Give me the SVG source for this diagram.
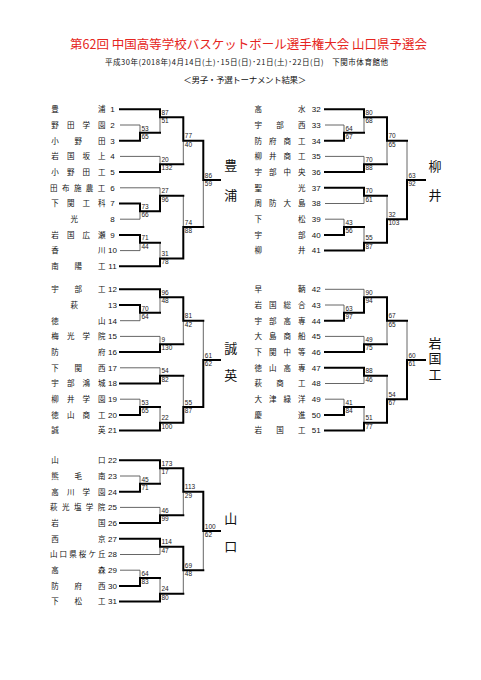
<svg xmlns="http://www.w3.org/2000/svg" width="481" height="680" viewBox="0 0 481 680">
<style>
.nm{font-family:"Noto Sans CJK JP","Noto Sans CJK SC",sans-serif;font-size:7.5px;fill:#111}
.no{font-family:"Liberation Sans",Arial,sans-serif;font-size:8px;fill:#111;text-anchor:middle}
.sc{font-family:"Liberation Sans",Arial,sans-serif;font-size:6.5px;fill:#222}
.th{stroke:#000;stroke-width:2;fill:none;stroke-linecap:square}
.tn{stroke:#555;stroke-width:0.9;fill:none}
.lb{font-family:"Noto Sans CJK JP",sans-serif;font-size:13px;text-anchor:middle;fill:#111}
.hd{font-family:"Noto Sans CJK JP","Noto Sans CJK SC",sans-serif;fill:#111}
</style>
<rect width="481" height="680" fill="#fff"/>
<g id="title">
<text class="hd" x="70" y="48.5" font-size="12.5" style="fill:#e52420" textLength="357" lengthAdjust="spacing">第62回 中国高等学校バスケットボール選手権大会 山口県予選会</text>
<text class="hd" x="105" y="64.8" font-size="7.5" textLength="283" lengthAdjust="spacing">平成30年(2018年)4月14日(土)･15日(日)･21日(土)･22日(日)　下関市体育館他</text>
<text class="hd" x="183.3" y="82.7" font-size="8.5" textLength="123" lengthAdjust="spacing">＜男子・予選トーナメント結果＞</text>
</g>
<g id="connectors">
<path class="tn" d="M120 125H140M120 156.4H160M120 187.8H160M120 219.2H140M120 250.6H140
M140 125V132.85M160 117.15V132.85M160 156.4V164.25M183.3 140.7V164.25M140 211.35V219.2M160 187.8V195.65M140 242.75V250.6M160 242.75V258.45M183.3 195.65V227.05M203.3 179.95V227.05"/>
<path class="th" d="M120 109.3H160M120 140.7H140M120 172.1H160M120 203.5H140M120 234.9H140M120 266.3H160
M140 140.7V132.85H160M160 109.3V117.15H183.3M160 172.1V164.25H183.3M183.3 117.15V140.7H203.3M140 203.5V211.35H160M160 211.35V195.65H183.3M140 234.9V242.75H160M160 266.3V258.45H183.3M183.3 258.45V227.05H203.3M203.3 140.7V179.95H220"/>
<path class="tn" d="M120 320.7H140M120 336.4H160M120 367.8H160M120 399.2H140
M140 312.85V320.7M160 297.15V312.85M160 336.4V344.25M183.3 320.7V344.25M160 367.8V375.65M140 399.2V407.05M160 407.05V422.75M183.3 375.65V407.05M203.3 320.7V359.95"/>
<path class="th" d="M120 289.3H160M120 305H140M120 352.1H160M120 383.5H160M120 414.9H140M120 430.6H160
M140 305V312.85H160M160 289.3V297.15H183.3M160 352.1V344.25H183.3M183.3 297.15V320.7H203.3M160 383.5V375.65H183.3M140 414.9V407.05H160M160 430.6V422.75H183.3M183.3 422.75V407.05H203.3M203.3 407.05V359.95H220"/>
<path class="tn" d="M120 476H140M120 507.4H160M120 554.5H160M120 570.2H140
M140 476V483.85M160 468.15V483.85M160 507.4V515.25M183.3 491.7V515.25M160 546.65V554.5M140 570.2V578.05M160 578.05V593.75M183.3 570.2V593.75M203.3 530.95V570.2"/>
<path class="th" d="M120 460.3H160M120 491.7H140M120 523.1H160M120 538.8H160M120 585.9H140M120 601.6H160
M140 491.7V483.85H160M160 460.3V468.15H183.3M160 523.1V515.25H183.3M183.3 468.15V491.7H203.3M160 538.8V546.65H183.3M140 585.9V578.05H160M160 601.6V593.75H183.3M183.3 546.65V570.2H203.3M203.3 491.7V530.95H220"/>
<path class="tn" d="M325 125H344M325 156.4H364M325 203.5H364M325 219.2H344
M344 125V132.85M364 117.15V132.85M364 156.4V164.25M387 140.7V164.25M364 195.65V203.5M344 219.2V227.05M364 227.05V242.75M387 195.65V219.2M407 140.7V179.95"/>
<path class="th" d="M325 109.3H364M325 140.7H344M325 172.1H364M325 187.8H364M325 234.9H344M325 250.6H364
M344 140.7V132.85H364M364 109.3V117.15H387M364 172.1V164.25H387M387 117.15V140.7H407M364 187.8V195.65H387M344 234.9V227.05H364M364 250.6V242.75H387M387 242.75V219.2H407M407 219.2V179.95H425"/>
<path class="tn" d="M325 289.3H364M325 305H344M325 336.4H364M325 383.5H364M325 399.2H344
M344 305V312.85M364 289.3V297.15M364 336.4V344.25M387 320.7V344.25M364 375.65V383.5M344 399.2V407.05M364 407.05V422.75M387 375.65V399.2M407 320.7V359.95"/>
<path class="th" d="M325 320.7H344M325 352.1H364M325 367.8H364M325 414.9H344M325 430.6H364
M344 320.7V312.85H364M364 312.85V297.15H387M364 352.1V344.25H387M387 297.15V320.7H407M364 367.8V375.65H387M344 414.9V407.05H364M364 430.6V422.75H387M387 422.75V399.2H407M407 399.2V359.95H425"/>
</g>
<g id="scores" class="sc">
<text x="141.5" y="130.55">53</text><text x="141.5" y="138.85">65</text>
<text x="161.5" y="114.85">87</text><text x="161.5" y="123.15">51</text>
<text x="161.5" y="161.95">20</text><text x="161.5" y="170.25">132</text>
<text x="184.8" y="138.4">77</text><text x="184.8" y="146.7">40</text>
<text x="141.5" y="209.05">73</text><text x="141.5" y="217.35">66</text>
<text x="161.5" y="193.35">27</text><text x="161.5" y="201.65">96</text>
<text x="141.5" y="240.45">71</text><text x="141.5" y="248.75">44</text>
<text x="161.5" y="256.15">31</text><text x="161.5" y="264.45">78</text>
<text x="184.8" y="224.75">74</text><text x="184.8" y="233.05">88</text>
<text x="204.8" y="177.65">86</text><text x="204.8" y="185.95">59</text>

<text x="141.5" y="310.55">70</text><text x="141.5" y="318.85">64</text>
<text x="161.5" y="294.85">96</text><text x="161.5" y="303.15">48</text>
<text x="161.5" y="341.95">9</text><text x="161.5" y="350.25">130</text>
<text x="184.8" y="318.4">81</text><text x="184.8" y="326.7">42</text>
<text x="161.5" y="373.35">54</text><text x="161.5" y="381.65">82</text>
<text x="141.5" y="404.75">53</text><text x="141.5" y="413.05">65</text>
<text x="161.5" y="420.45">22</text><text x="161.5" y="428.75">100</text>
<text x="184.8" y="404.75">55</text><text x="184.8" y="413.05">87</text>
<text x="204.8" y="357.65">61</text><text x="204.8" y="365.95">62</text>

<text x="141.5" y="481.55">45</text><text x="141.5" y="489.85">71</text>
<text x="161.5" y="465.85">173</text><text x="161.5" y="474.15">17</text>
<text x="161.5" y="512.95">46</text><text x="161.5" y="521.25">99</text>
<text x="184.8" y="489.4">113</text><text x="184.8" y="497.7">29</text>
<text x="161.5" y="544.35">114</text><text x="161.5" y="552.65">47</text>
<text x="141.5" y="575.75">64</text><text x="141.5" y="584.05">83</text>
<text x="161.5" y="591.45">24</text><text x="161.5" y="599.75">80</text>
<text x="184.8" y="567.9">69</text><text x="184.8" y="576.2">48</text>
<text x="204.8" y="528.65">100</text><text x="204.8" y="536.95">62</text>

<text x="345.5" y="130.55">64</text><text x="345.5" y="138.85">67</text>
<text x="365.5" y="114.85">80</text><text x="365.5" y="123.15">68</text>
<text x="365.5" y="161.95">70</text><text x="365.5" y="170.25">88</text>
<text x="388.5" y="138.4">70</text><text x="388.5" y="146.7">65</text>
<text x="365.5" y="193.35">70</text><text x="365.5" y="201.65">61</text>
<text x="345.5" y="224.75">43</text><text x="345.5" y="233.05">56</text>
<text x="365.5" y="240.45">55</text><text x="365.5" y="248.75">87</text>
<text x="388.5" y="216.9">32</text><text x="388.5" y="225.2">103</text>
<text x="408.5" y="177.65">63</text><text x="408.5" y="185.95">92</text>

<text x="345.5" y="310.55">63</text><text x="345.5" y="318.85">97</text>
<text x="365.5" y="294.85">90</text><text x="365.5" y="303.15">94</text>
<text x="365.5" y="341.95">49</text><text x="365.5" y="350.25">75</text>
<text x="388.5" y="318.4">67</text><text x="388.5" y="326.7">65</text>
<text x="365.5" y="373.35">88</text><text x="365.5" y="381.65">46</text>
<text x="345.5" y="404.75">41</text><text x="345.5" y="413.05">84</text>
<text x="365.5" y="420.45">51</text><text x="365.5" y="428.75">77</text>
<text x="388.5" y="396.9">54</text><text x="388.5" y="405.2">67</text>
<text x="408.5" y="357.65">60</text><text x="408.5" y="365.95">61</text>
</g>
<g id="t1"><text class="nm" x="51.3 97.9" y="112.1">豊浦</text><text class="no" x="112.5" y="112.1">1</text></g>
<g id="t2"><text class="nm" x="51.3 66.9 82.5 98" y="127.8">野田学園</text><text class="no" x="112.5" y="127.8">2</text></g>
<g id="t3"><text class="nm" x="51.3 74.6 97.9" y="143.5">小野田</text><text class="no" x="112.5" y="143.5">3</text></g>
<g id="t4"><text class="nm" x="51.3 66.9 82.5 98" y="159.2">岩国坂上</text><text class="no" x="112.5" y="159.2">4</text></g>
<g id="t5"><text class="nm" x="51.3 66.9 82.5 98" y="174.9">小野田工</text><text class="no" x="112.5" y="174.9">5</text></g>
<g id="t6"><text class="nm" x="50 61.9 73.9 85.8 97.8" y="190.6">田布施農工</text><text class="no" x="112.5" y="190.6">6</text></g>
<g id="t7"><text class="nm" x="51.3 66.9 82.5 98" y="206.3">下関工科</text><text class="no" x="112.5" y="206.3">7</text></g>
<g id="t8"><text class="nm" x="70.5" y="222">光</text><text class="no" x="112.5" y="222">8</text></g>
<g id="t9"><text class="nm" x="51.3 66.9 82.5 98" y="237.7">岩国広瀬</text><text class="no" x="112.5" y="237.7">9</text></g>
<g id="t10"><text class="nm" x="51.3 97.9" y="253.4">香川</text><text class="no" x="112.5" y="253.4">10</text></g>
<g id="t11"><text class="nm" x="51.3 74.6 97.9" y="269.1">南陽工</text><text class="no" x="112.5" y="269.1">11</text></g>
<g id="t12"><text class="nm" x="51.3 74.6 97.9" y="292.1">宇部工</text><text class="no" x="112.5" y="292.1">12</text></g>
<g id="t13"><text class="nm" x="70.5" y="307.8">萩</text><text class="no" x="112.5" y="307.8">13</text></g>
<g id="t14"><text class="nm" x="51.3 97.9" y="323.5">徳山</text><text class="no" x="112.5" y="323.5">14</text></g>
<g id="t15"><text class="nm" x="51.3 66.9 82.5 98" y="339.2">梅光学院</text><text class="no" x="112.5" y="339.2">15</text></g>
<g id="t16"><text class="nm" x="51.3 97.9" y="354.9">防府</text><text class="no" x="112.5" y="354.9">16</text></g>
<g id="t17"><text class="nm" x="51.3 74.6 97.9" y="370.6">下関西</text><text class="no" x="112.5" y="370.6">17</text></g>
<g id="t18"><text class="nm" x="51.3 66.9 82.5 98" y="386.3">宇部鴻城</text><text class="no" x="112.5" y="386.3">18</text></g>
<g id="t19"><text class="nm" x="51.3 66.9 82.5 98" y="402">柳井学園</text><text class="no" x="112.5" y="402">19</text></g>
<g id="t20"><text class="nm" x="51.3 66.9 82.5 98" y="417.7">徳山商工</text><text class="no" x="112.5" y="417.7">20</text></g>
<g id="t21"><text class="nm" x="51.3 97.9" y="433.4">誠英</text><text class="no" x="112.5" y="433.4">21</text></g>
<g id="t22"><text class="nm" x="51.3 97.9" y="463.1">山口</text><text class="no" x="112.5" y="463.1">22</text></g>
<g id="t23"><text class="nm" x="51.3 74.6 97.9" y="478.8">熊毛南</text><text class="no" x="112.5" y="478.8">23</text></g>
<g id="t24"><text class="nm" x="51.3 66.9 82.5 98" y="494.5">高川学園</text><text class="no" x="112.5" y="494.5">24</text></g>
<g id="t25"><text class="nm" x="50 61.9 73.9 85.8 97.8" y="510.2">萩光塩学院</text><text class="no" x="112.5" y="510.2">25</text></g>
<g id="t26"><text class="nm" x="51.3 97.9" y="525.9">岩国</text><text class="no" x="112.5" y="525.9">26</text></g>
<g id="t27"><text class="nm" x="51.3 97.9" y="541.6">西京</text><text class="no" x="112.5" y="541.6">27</text></g>
<g id="t28"><text class="nm" x="50 59.6 69.2 78.8 88.4 98" y="557.3">山口県桜ケ丘</text><text class="no" x="112.5" y="557.3">28</text></g>
<g id="t29"><text class="nm" x="51.3 97.9" y="573">高森</text><text class="no" x="112.5" y="573">29</text></g>
<g id="t30"><text class="nm" x="51.3 74.6 97.9" y="588.7">防府西</text><text class="no" x="112.5" y="588.7">30</text></g>
<g id="t31"><text class="nm" x="51.3 74.6 97.9" y="604.4">下松工</text><text class="no" x="112.5" y="604.4">31</text></g>
<g id="t32"><text class="nm" x="254.6 297.9" y="112.1">高水</text><text class="no" x="316.3" y="112.1">32</text></g>
<g id="t33"><text class="nm" x="254.6 276.2 297.9" y="127.8">宇部西</text><text class="no" x="316.3" y="127.8">33</text></g>
<g id="t34"><text class="nm" x="254.6 269 283.5 297.9" y="143.5">防府商工</text><text class="no" x="316.3" y="143.5">34</text></g>
<g id="t35"><text class="nm" x="254.6 269 283.5 297.9" y="159.2">柳井商工</text><text class="no" x="316.3" y="159.2">35</text></g>
<g id="t36"><text class="nm" x="254.6 269 283.5 297.9" y="174.9">宇部中央</text><text class="no" x="316.3" y="174.9">36</text></g>
<g id="t37"><text class="nm" x="254.6 297.9" y="190.6">聖光</text><text class="no" x="316.3" y="190.6">37</text></g>
<g id="t38"><text class="nm" x="254.6 269 283.5 297.9" y="206.3">周防大島</text><text class="no" x="316.3" y="206.3">38</text></g>
<g id="t39"><text class="nm" x="254.6 297.9" y="222">下松</text><text class="no" x="316.3" y="222">39</text></g>
<g id="t40"><text class="nm" x="254.6 297.9" y="237.7">宇部</text><text class="no" x="316.3" y="237.7">40</text></g>
<g id="t41"><text class="nm" x="254.6 297.9" y="253.4">柳井</text><text class="no" x="316.3" y="253.4">41</text></g>
<g id="t42"><text class="nm" x="254.6 297.9" y="292.1">早鞆</text><text class="no" x="316.3" y="292.1">42</text></g>
<g id="t43"><text class="nm" x="254.6 269 283.5 297.9" y="307.8">岩国総合</text><text class="no" x="316.3" y="307.8">43</text></g>
<g id="t44"><text class="nm" x="254.6 269 283.5 297.9" y="323.5">宇部高専</text><text class="no" x="316.3" y="323.5">44</text></g>
<g id="t45"><text class="nm" x="254.6 269 283.5 297.9" y="339.2">大島商船</text><text class="no" x="316.3" y="339.2">45</text></g>
<g id="t46"><text class="nm" x="254.6 269 283.5 297.9" y="354.9">下関中等</text><text class="no" x="316.3" y="354.9">46</text></g>
<g id="t47"><text class="nm" x="254.6 269 283.5 297.9" y="370.6">徳山高専</text><text class="no" x="316.3" y="370.6">47</text></g>
<g id="t48"><text class="nm" x="254.6 276.2 297.9" y="386.3">萩商工</text><text class="no" x="316.3" y="386.3">48</text></g>
<g id="t49"><text class="nm" x="254.6 269 283.5 297.9" y="402">大津緑洋</text><text class="no" x="316.3" y="402">49</text></g>
<g id="t50"><text class="nm" x="254.6 297.9" y="417.7">慶進</text><text class="no" x="316.3" y="417.7">50</text></g>
<g id="t51"><text class="nm" x="254.6 276.2 297.9" y="433.4">岩国工</text><text class="no" x="316.3" y="433.4">51</text></g>
<g id="w-toyoura" class="lb"><text x="230.7" y="169.5">豊<tspan x="230.7" dy="30">浦</tspan></text></g>
<g id="w-seiei" class="lb"><text x="230.7" y="353">誠<tspan x="230.7" dy="26.5">英</tspan></text></g>
<g id="w-yamaguchi" class="lb"><text x="230.7" y="523">山<tspan x="230.7" dy="28">口</tspan></text></g>
<g id="w-yanai" class="lb"><text x="435" y="170.5">柳<tspan x="435" dy="29">井</tspan></text></g>
<g id="w-iwakunikou"><text x="435" y="336.5" writing-mode="vertical-rl" style="font-family:'Noto Sans CJK JP',sans-serif;font-size:13px;fill:#111;letter-spacing:2.5px">岩国工</text></g>
</svg>
